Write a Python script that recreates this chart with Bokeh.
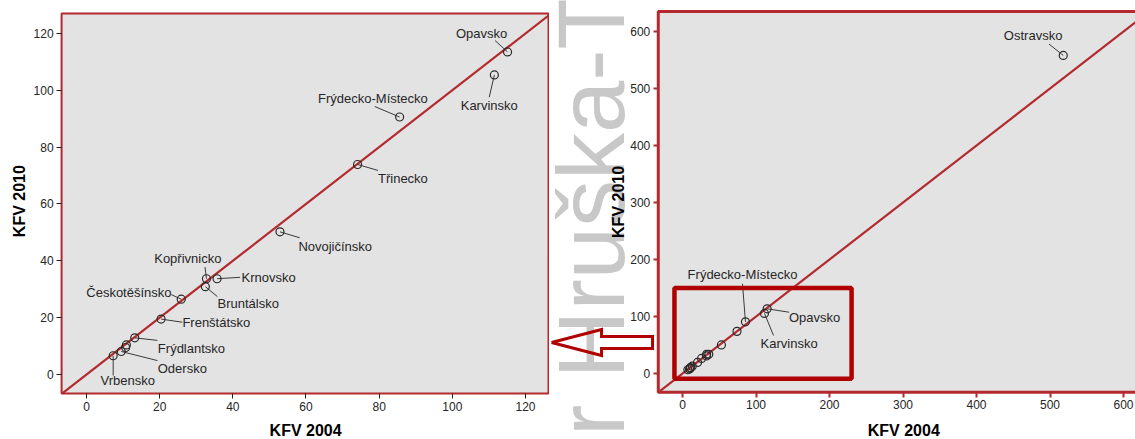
from bokeh.plotting import figure
from bokeh.layouts import row
from bokeh.models import (ColumnDataSource, FixedTicker, Label, BoxAnnotation, Range1d)
from bokeh.embed import file_html
from bokeh.resources import INLINE
from bokeh.core.properties import value

# ---------------- data ----------------
regions = ["Ostravsko", "Opavsko", "Karvinsko", "Frýdecko-Místecko", "Třinecko",
           "Novojičínsko", "Kopřivnicko", "Krnovsko", "Bruntálsko", "Českotěšínsko",
           "Frenštátsko", "Frýdlantsko", "", "", "Odersko", "Vrbensko"]
kfv_2004 = [518.0, 115.1, 111.5, 85.6, 74.1, 52.9, 32.8, 35.7, 32.5, 25.9,
            20.4, 13.2, 10.9, 10.7, 9.5, 7.3]
kfv_2010 = [558.0, 113.5, 105.4, 90.6, 73.9, 50.2, 33.7, 33.7, 30.9, 26.5,
            19.5, 12.9, 10.4, 9.5, 8.1, 6.6]

left_ticks = [0, 20, 40, 60, 80, 100, 120]
right_ticks = [0, 100, 200, 300, 400, 500, 600]
x_title = "KFV 2004"
y_title = "KFV 2010"
watermark_text = "or Hruška-T"

# ---------------- layout / style ----------------
FONT = "Liberation Sans"
BG = "#e3e3e3"
FRAME_RED = "#b22a2e"
BOX_RED = "#b00000"
TXT = "#262626"
H = 439

# both figures use their whole canvas as frame; the grey plot areas are boxes inside
left_xrange = (-23.5, 126.57)
left_yrange = (-22.87, 131.6)
left_area_x = (-6.8, 126.3)
left_area_y = (-6.7, 127.0)
left_x_title_pos = (59.9, -19.7)
left_y_title_pos = (-18.3, 61.0)

right_xrange = (-181.0, 616.3)
right_yrange = (-115.8, 654.4)
right_area = (-33.0, 635.0)
right_x_title_pos = (301.0, -100.0)
right_y_title_pos = (-87.0, 301.0)

# label placement: name -> (label x, label y, align, leader start x, leader start y)
left_labels = {
    "Opavsko": (108.0, 120.0, "center", 111.7, 117.5),
    "Karvinsko": (110.1, 94.6, "center", 110.1, 97.6),
    "Frýdecko-Místecko": (78.3, 97.2, "center", 78.8, 94.3),
    "Třinecko": (86.5, 69.1, "center", 79.7, 71.8),
    "Novojičínsko": (68.0, 45.0, "center", 58.3, 48.1),
    "Kopřivnicko": (27.7, 40.9, "center", 32.4, 37.8),
    "Krnovsko": (42.4, 34.2, "left", 42.0, 34.2),
    "Bruntálsko": (44.2, 24.9, "center", 35.8, 27.4),
    "Českotěšínsko": (11.6, 29.0, "center", 23.2, 28.1),
    "Frenštátsko": (35.5, 18.4, "center", 26.2, 18.4),
    "Frýdlantsko": (28.7, 9.0, "center", 19.4, 12.0),
    "Odersko": (26.2, 2.2, "center", 19.4, 4.9),
    "Vrbensko": (11.3, -2.1, "center", 7.3, -0.35),
}
right_labels = {
    "Ostravsko": (477.0, 593.0, "center", 498.6, 578.0),
    "Frýdecko-Místecko": (81.6, 173.2, "center", 81.6, 157.4),
    "Opavsko": (179.6, 98.8, "center", 145.0, 107.5),
    "Karvinsko": (145.0, 52.1, "center", 123.8, 66.7),
}
zoom_box = dict(left=-11.0, right=230.0, bottom=-9.0, top=150.0)
# hollow arrow (right-figure data units) and watermark anchor
arrow_x = [-178.2, -110.2, -110.2, -40.8, -40.8, -110.2, -110.2, -178.2]
arrow_y = [54.4, 77.2, 64.9, 64.9, 43.9, 43.9, 31.6, 54.4]
wm_anchor = (-123.8, -201.2)


def style_axis(ax, ticks, tick_color, tick_w, loc):
    ax.fixed_location = loc
    ax.ticker = FixedTicker(ticks=ticks)
    ax.axis_line_color = None
    ax.major_tick_in = 0
    ax.major_tick_out = 5
    ax.major_tick_line_color = tick_color
    ax.major_tick_line_width = tick_w
    ax.minor_tick_line_color = None
    ax.major_label_text_font = FONT
    ax.major_label_text_font_size = "12px"
    ax.major_label_text_color = TXT
    ax.major_label_standoff = 3


def base_figure(width, xr, yr):
    p = figure(width=width, height=H, output_backend="svg", toolbar_location=None,
               x_range=Range1d(*xr), y_range=Range1d(*yr),
               min_border_left=0, min_border_right=0, min_border_top=0,
               min_border_bottom=0)
    p.background_fill_color = "white"
    p.border_fill_color = "white"
    p.outline_line_color = None
    p.grid.visible = False
    return p


def add_titles(p, xpos, ypos):
    p.add_layout(Label(x=xpos[0], y=xpos[1], text=x_title, text_font=FONT,
                       text_font_size="16px", text_font_style="bold",
                       text_color="black", text_align="center", text_baseline="middle"))
    p.add_layout(Label(x=ypos[0], y=ypos[1], text=y_title, angle=90, angle_units="deg",
                       text_font=FONT, text_font_size="16px", text_font_style="bold",
                       text_color="black", text_align="center", text_baseline="middle"))


def add_area(p, ax, ay, lw):
    p.add_layout(BoxAnnotation(left=ax[0], right=ax[1], bottom=ay[0], top=ay[1],
                               fill_color=BG, fill_alpha=1.0, line_color=FRAME_RED,
                               line_alpha=1.0, line_width=lw, level="underlay"))


def add_points(p, labels, xs, ys):
    names = [n for n in regions if n in labels]
    lx = [labels[n][0] for n in names]
    ly = [labels[n][1] for n in names]
    la = [labels[n][2] for n in names]
    sx = [labels[n][3] for n in names]
    sy = [labels[n][4] for n in names]
    px = [kfv_2004[regions.index(n)] for n in names]
    py = [kfv_2010[regions.index(n)] for n in names]
    p.segment(x0=sx, y0=sy, x1=px, y1=py, line_color="#3a3a3a", line_width=1)
    p.scatter(x=xs, y=ys, size=8, marker="circle", fill_color=None,
              line_color="#2a2a2a", line_width=1.2)
    lsrc = ColumnDataSource(dict(x=lx, y=ly, t=names, a=la))
    p.text("x", "y", text="t", source=lsrc, text_align="a", text_baseline="middle",
           text_font=value(FONT), text_font_size="13px", text_color=TXT)


# ---------------- left plot (zoom on the smaller regions) ----------------
left = base_figure(549, left_xrange, left_yrange)
add_area(left, left_area_x, left_area_y, 2)
style_axis(left.xaxis[0], left_ticks, "#202020", 1, left_area_y[0])
style_axis(left.yaxis[0], left_ticks, "#202020", 1, left_area_x[0])
add_titles(left, left_x_title_pos, left_y_title_pos)
lo = max(left_area_x[0], left_area_y[0])
hi = min(left_area_x[1], left_area_y[1])
left.line(x=[lo, hi], y=[lo, hi], line_color=FRAME_RED, line_width=2.2)
add_points(left, left_labels, kfv_2004[1:], kfv_2010[1:])

# ---------------- right plot (all regions) ----------------
right = base_figure(586, right_xrange, right_yrange)
add_area(right, right_area, right_area, 3)
style_axis(right.xaxis[0], right_ticks, FRAME_RED, 2, right_area[0])
style_axis(right.yaxis[0], right_ticks, FRAME_RED, 2, right_area[0])

# watermark (drawn first, below everything else)
right.text(x=[wm_anchor[0]], y=[wm_anchor[1]], text=[watermark_text], angle=90,
           angle_units="deg", text_font=value(FONT), text_font_size="94px",
           text_color="#c8c8c8", text_align="left", text_baseline="middle")
add_titles(right, right_x_title_pos, right_y_title_pos)

right.line(x=list(right_area), y=list(right_area), line_color=FRAME_RED, line_width=2.2)
add_points(right, right_labels, kfv_2004, kfv_2010)
right.quad(left=[zoom_box["left"]], right=[zoom_box["right"]],
           bottom=[zoom_box["bottom"]], top=[zoom_box["top"]],
           fill_color=None, line_color=BOX_RED, line_width=4.5)
right.line(x=arrow_x, y=arrow_y, line_color=BOX_RED, line_width=3, line_join="miter")

layout = row(left, right)
open("out.html", "w").write(file_html(layout, INLINE))
